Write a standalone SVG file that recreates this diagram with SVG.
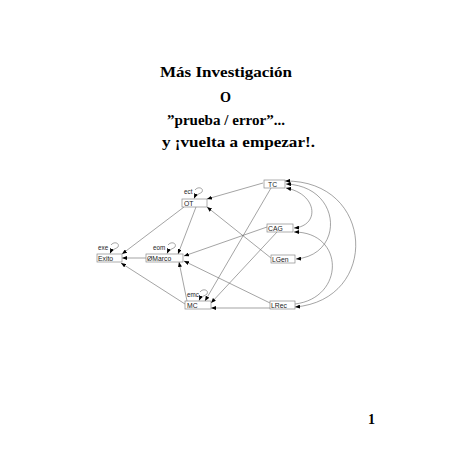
<svg xmlns="http://www.w3.org/2000/svg" width="452" height="452" viewBox="0 0 452 452">
<style>
.title{font-family:"Liberation Serif","Times New Roman",serif;font-weight:bold;font-size:14px;fill:#000}
.box{fill:#fff;stroke:#8a8a8a;stroke-width:0.7}
.lbl{font-family:"Liberation Sans",Arial,sans-serif;font-size:6.8px;fill:#222}
.loopl{font-family:"Liberation Sans",Arial,sans-serif;font-size:6.3px;fill:#222}
.e{fill:none;stroke:#666;stroke-width:0.6;marker-end:url(#ah)}
.b{fill:none;stroke:#666;stroke-width:0.6;marker-end:url(#ah);marker-start:url(#ah)}
</style>
<defs>
<marker id="ah" markerUnits="userSpaceOnUse" markerWidth="5" markerHeight="4" viewBox="0 0 5 4" refX="5" refY="2" orient="auto-start-reverse">
<path d="M0,0 L5,2 L0,4 z" fill="#000"/>
</marker>
</defs>
<rect width="452" height="452" fill="#fff"/>
<g id="title">
<text class="title" x="160" y="77" textLength="132" lengthAdjust="spacingAndGlyphs">Más Investigación</text>
<text class="title" x="220" y="102" textLength="11" lengthAdjust="spacingAndGlyphs">O</text>
<text class="title" x="167" y="125" textLength="118" lengthAdjust="spacingAndGlyphs">”prueba / error”...</text>
<text class="title" x="162" y="147" textLength="153" lengthAdjust="spacingAndGlyphs">y ¡vuelta a empezar!.</text>
<text class="title" x="368" y="424" font-weight="normal" font-size="11">1</text>
</g>
<g id="connectors">
<path class="e" d="M263,183 L207,199"/>
<path class="e" d="M271,258 L207,207"/>
<path class="e" d="M184,207 L122,254"/>
<path class="e" d="M196,207 L178,254"/>
<path class="e" d="M146,258 L122,258"/>
<path class="e" d="M267,227 L184,256"/>
<path class="e" d="M270,303 L184,261"/>
<path class="e" d="M187,301 L179,262"/>
<path class="e" d="M185,304 L121,263"/>
<path class="e" d="M271,188 L205,301"/>
<path class="e" d="M277,232 L211,303"/>
<path class="e" d="M270,308 L211,308"/>
<path class="b" d="M286,188 C318,194 320,226 294,228"/>
<path class="b" d="M286,184 C342,186 345,255 296,259"/>
<path class="b" d="M285,181 C375,180 380,300 295,307"/>
<path class="e" d="M295,304 C345,298 345,232 294,232"/>
<path class="e" d="M195,190 C198,186 204,188 202,192 C200,194 196,194 194,198.5"/>
<path class="e" d="M111,245 C114,241 120,243 118,247 C116,249 112,249 110,253.5"/>
<path class="e" d="M168,245 C171,241 177,243 175,247 C173,249 169,249 167,253.5"/>
<path class="e" d="M200,292 C203,288 209,290 207,294 C205,296 201,296 199,300.5"/>
</g>
<g id="TC"><rect class="box" x="264" y="180" width="21" height="8"/><text class="lbl" x="268" y="186.5">TC</text></g>
<g id="OT"><rect class="box" x="182" y="199" width="25" height="8"/><text class="lbl" x="184" y="205.5">OT</text><text class="loopl" x="184" y="194">ect</text></g>
<g id="Exito"><rect class="box" x="97" y="254" width="25" height="8"/><text class="lbl" x="98" y="260.5">Exito</text><text class="loopl" x="98" y="250">exe</text></g>
<g id="Marco"><rect class="box" x="146" y="254" width="37" height="8"/><text class="lbl" x="147" y="260.5">ØMarco</text><text class="loopl" x="153" y="250">eom</text></g>
<g id="CAG"><rect class="box" x="267" y="224" width="26" height="8"/><text class="lbl" x="268" y="230.5">CAG</text></g>
<g id="LGen"><rect class="box" x="271" y="255" width="24" height="8"/><text class="lbl" x="272" y="261.5">LGen</text></g>
<g id="LRec"><rect class="box" x="270" y="301" width="25" height="8"/><text class="lbl" x="271" y="307.5">LRec</text></g>
<g id="MC"><rect class="box" x="185" y="301" width="26" height="8"/><text class="lbl" x="187" y="307.5">MC</text><text class="loopl" x="187" y="297">emc</text></g>
</svg>
